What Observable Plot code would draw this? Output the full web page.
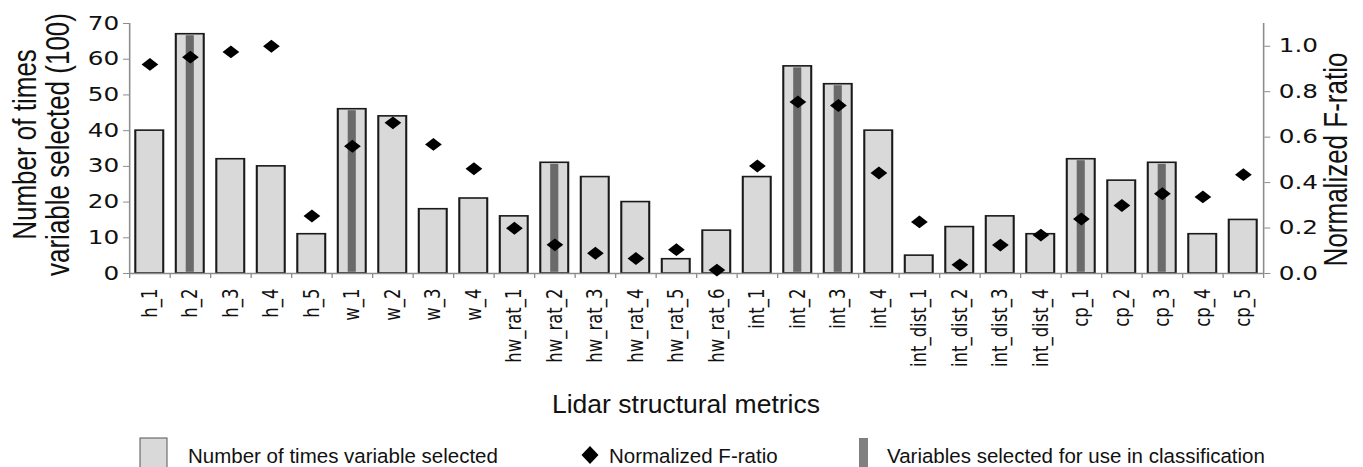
<!DOCTYPE html>
<html>
<head>
<meta charset="utf-8">
<script src="https://cdn.jsdelivr.net/npm/d3@7"></script>
<script src="https://cdn.jsdelivr.net/npm/@observablehq/plot@0.6"></script>
<style>
  html, body { margin: 0; padding: 0; background: #fff; }
  #wrap { position: relative; width: 1363px; height: 467px; overflow: hidden; background: #fff; }
  #legend { position: absolute; left: 0; top: 385px; }
</style>
</head>
<body>
<div id="wrap"></div>
<script>
// ---- data ----
const categories = ["h_1","h_2","h_3","h_4","h_5","w_1","w_2","w_3","w_4",
  "hw_rat_1","hw_rat_2","hw_rat_3","hw_rat_4","hw_rat_5","hw_rat_6",
  "int_1","int_2","int_3","int_4","int_dist_1","int_dist_2","int_dist_3","int_dist_4",
  "cp_1","cp_2","cp_3","cp_4","cp_5"];
const timesSelected = [40,67,32,30,11,46,44,18,21,16,31,27,20,4,12,27,58,53,40,5,13,16,11,32,26,31,11,15];
const fRatio = [0.92,0.952,0.975,1.0,0.253,0.56,0.663,0.568,0.461,0.199,0.126,0.089,0.066,0.105,0.015,
  0.473,0.755,0.739,0.442,0.227,0.038,0.125,0.169,0.24,0.299,0.351,0.337,0.435];
const selectedForClassification = ["h_2","w_1","hw_rat_2","int_2","int_3","cp_1","cp_3"];
const leftTicks = [0,10,20,30,40,50,60,70];
const rightTicks = [0,0.2,0.4,0.6,0.8,1.0];
const leftTitle = "Number of times\nvariable selected (100)";
const rightTitle = "Normalized F-ratio";
const xTitle = "Lidar structural metrics";
const legendLabels = ["Number of times variable selected", "Normalized F-ratio", "Variables selected for use in classification"];

// ---- layout ----
const FULLW = 1363;
const W = 1048;                // unscaled width (chart body is stretched ~1.3x horizontally)
const H = 385;
const k = 70 / 1.1;            // right axis -> left axis units

const data = categories.map((c, i) => ({
  c, i, n: timesSelected[i], f: fRatio[i] * k,
  sel: selectedForClassification.includes(c)
}));

const axisGrey = "#8c8c8c";

const chart = Plot.plot({
  width: W,
  height: H,
  marginLeft: 99.2,
  marginRight: 76.9,
  marginTop: 23,
  marginBottom: 112,
  style: { fontFamily: "'DejaVu Sans', Verdana, sans-serif", background: "white", color: "#111" },
  x: { type: "linear", domain: [0, categories.length], axis: null },
  y: { domain: [0, 70], axis: null },
  marks: [
    Plot.rectY(data, { x1: d => d.i + 0.155, x2: d => d.i + 0.845, y1: 0, y2: "n",
      fill: "#d9d9d9", stroke: "#1a1a1a", strokeWidth: 1.6 }),
    Plot.rectY(data.filter(d => d.sel), { x1: d => d.i + 0.4, x2: d => d.i + 0.6, y1: 0, y2: "n",
      fill: "#6a6a6a", insetTop: 1.5, insetBottom: 1.2 }),
    Plot.ruleY([0], { stroke: axisGrey, strokeWidth: 1.5 }),
    Plot.ruleX([0], { y1: 0, y2: 70, stroke: axisGrey, strokeWidth: 1.2 }),
    Plot.ruleX([categories.length], { y1: 0, y2: 70, stroke: axisGrey, strokeWidth: 1.2 }),
    Plot.axisX({ ticks: d3.range(0, categories.length + 1), tickFormat: () => "", tickSize: 5,
      stroke: axisGrey, label: null }),
    Plot.axisY({ anchor: "left", ticks: leftTicks, tickSize: 4.6, tickPadding: 3.5, fontSize: 19,
      stroke: axisGrey, fill: "#111", label: null }),
    Plot.axisY({ anchor: "right", ticks: rightTicks.map(t => t * k), tickFormat: d => (d / k).toFixed(1),
      tickSize: 4.6, tickPadding: 7, fontSize: 19, stroke: axisGrey, fill: "#111", label: null }),
    Plot.dot(data, { x: d => d.i + 0.5, y: "f", symbol: "diamond2", r: 5.8, fill: "#000", stroke: "none" }),
    Plot.text(data, { x: d => d.i + 0.5, y: 0, text: "c", rotate: -90, textAnchor: "end", dy: 15,
      fontSize: 16.5, fill: "#111" }),
    Plot.text([leftTitle], { frameAnchor: "left", rotate: -90, textAnchor: "middle", lineAnchor: "middle",
      dx: -67.7, dy: -4, fontSize: 26,
      fontFamily: "'Liberation Sans', Arial, sans-serif", fill: "#111", lineHeight: 1 }),
    Plot.text([rightTitle], { frameAnchor: "right", rotate: -90, textAnchor: "middle", lineAnchor: "middle",
      dx: 56, dy: 11, fontSize: 26,
      fontFamily: "'Liberation Sans', Arial, sans-serif", fill: "#111" })
  ]
});

chart.setAttribute("width", FULLW);
chart.setAttribute("height", H);
chart.setAttribute("preserveAspectRatio", "none");
chart.style.width = FULLW + "px";
chart.style.height = H + "px";
chart.style.maxWidth = "none";
chart.style.display = "block";

const wrap = document.getElementById("wrap");
wrap.appendChild(chart);

// ---- x title and legend (below the chart svg) ----
const leg = d3.create("svg")
  .attr("id", "legend")
  .attr("width", FULLW)
  .attr("height", 82)
  .attr("font-family", "'Liberation Sans', Arial, sans-serif")
  .attr("fill", "#111");

leg.append("text").attr("x", 686).attr("y", 28.3).attr("text-anchor", "middle")
  .attr("font-size", 26.5).text(xTitle);

leg.append("rect").attr("x", 140).attr("y", 53).attr("width", 27).attr("height", 30)
  .attr("fill", "#d9d9d9").attr("stroke", "#555").attr("stroke-width", 1);
leg.append("text").attr("x", 188).attr("y", 77.5).attr("font-size", 20.5).text(legendLabels[0]);

leg.append("path").attr("d", "M590,61 L598.5,70 L590,79 L581.5,70 Z").attr("fill", "#000");
leg.append("text").attr("x", 609).attr("y", 77.5).attr("font-size", 20.5).text(legendLabels[1]);

leg.append("rect").attr("x", 859).attr("y", 53).attr("width", 9).attr("height", 30).attr("fill", "#808080");
leg.append("text").attr("x", 887).attr("y", 77.5).attr("font-size", 20.5).text(legendLabels[2]);

wrap.appendChild(leg.node());
</script>
</body>
</html>
